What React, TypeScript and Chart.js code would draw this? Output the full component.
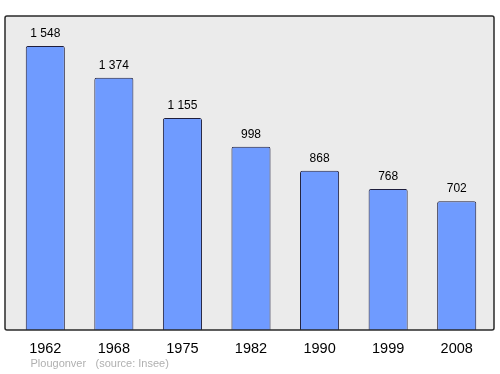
import React, { useEffect, useRef } from "react";
import { Chart, registerables } from "chart.js";

Chart.register(...registerables);

const years = ["1962", "1968", "1975", "1982", "1990", "1999", "2008"];
const population = [1548, 1374, 1155, 998, 868, 768, 702];
const townName = "Plougonver";
const sourceText = "(source: Insee)";

const fmt = (v: number) => {
  const s = String(v);
  return s.length > 3 ? s.slice(0, s.length - 3) + " " + s.slice(-3) : s;
};

const FONT = '"Liberation Sans", Arial, sans-serif';

const framePlugin = {
  id: "frame",
  beforeDatasetsDraw(chart: any) {
    const { ctx, chartArea } = chart;
    ctx.save();
    ctx.fillStyle = "#ebebeb";
    ctx.fillRect(chartArea.left - 6, chartArea.top, chartArea.right - chartArea.left + 9, chartArea.bottom - chartArea.top);
    ctx.restore();
  },
  afterDatasetsDraw(chart: any) {
    const { ctx, chartArea, scales } = chart;
    ctx.save();
    ctx.strokeStyle = "#2a2a2a";
    ctx.lineWidth = 1.5;
    const l = chartArea.left - 6;
    const t = chartArea.top;
    const w = chartArea.right - chartArea.left + 9;
    const h = chartArea.bottom - chartArea.top;
    ctx.beginPath();
    if (ctx.roundRect) ctx.roundRect(l, t, w, h, 2);
    else ctx.rect(l, t, w, h);
    ctx.stroke();

    // value labels
    ctx.fillStyle = "#000";
    ctx.textAlign = "center";
    ctx.textBaseline = "alphabetic";
    ctx.font = `12px ${FONT}`;
    population.forEach((v, i) => {
      const x = scales.x.getPixelForValue(i);
      const y = scales.y.getPixelForValue(v);
      ctx.fillText(fmt(v), x, y - 9);
    });

    // year labels
    ctx.font = `14.5px ${FONT}`;
    years.forEach((yr, i) => {
      const x = scales.x.getPixelForValue(i);
      ctx.fillText(yr, x, chartArea.bottom + 22.5);
    });

    // footer
    ctx.fillStyle = "#b0b0b0";
    ctx.textAlign = "left";
    ctx.font = `11px ${FONT}`;
    ctx.fillText(townName, 30.5, chartArea.bottom + 37);
    ctx.fillText(sourceText, 95.5, chartArea.bottom + 37);
    ctx.restore();
  },
};

export default function App() {
  const ref = useRef<HTMLCanvasElement | null>(null);
  useEffect(() => {
    if (!ref.current) return;
    const chart = new Chart(ref.current, {
      type: "bar",
      data: {
        labels: years,
        datasets: [
          {
            data: population,
            backgroundColor: "#6f9bff",
            borderColor: "#1e1e3c",
            borderWidth: 1,
            borderRadius: { topLeft: 2, topRight: 2, bottomLeft: 0, bottomRight: 0 },
            borderSkipped: "bottom",
            barPercentage: 0.57,
            categoryPercentage: 1,
          },
        ],
      },
      options: {
        responsive: false,
        animation: false,
        layout: { padding: { left: 11, right: 9, top: 16, bottom: 44 } },
        plugins: { legend: { display: false }, tooltip: { enabled: false } },
        scales: {
          x: { display: false, offset: true },
          y: { display: false, min: 0, max: 1711 },
        },
      },
      plugins: [framePlugin],
    });
    return () => chart.destroy();
  }, []);
  return (
    <div style={{ position: "fixed", left: 0, top: 0, width: 500, height: 374, background: "#fff" }}>
      <canvas ref={ref} width={500} height={374} style={{ width: 500, height: 374 }} />
    </div>
  );
}
